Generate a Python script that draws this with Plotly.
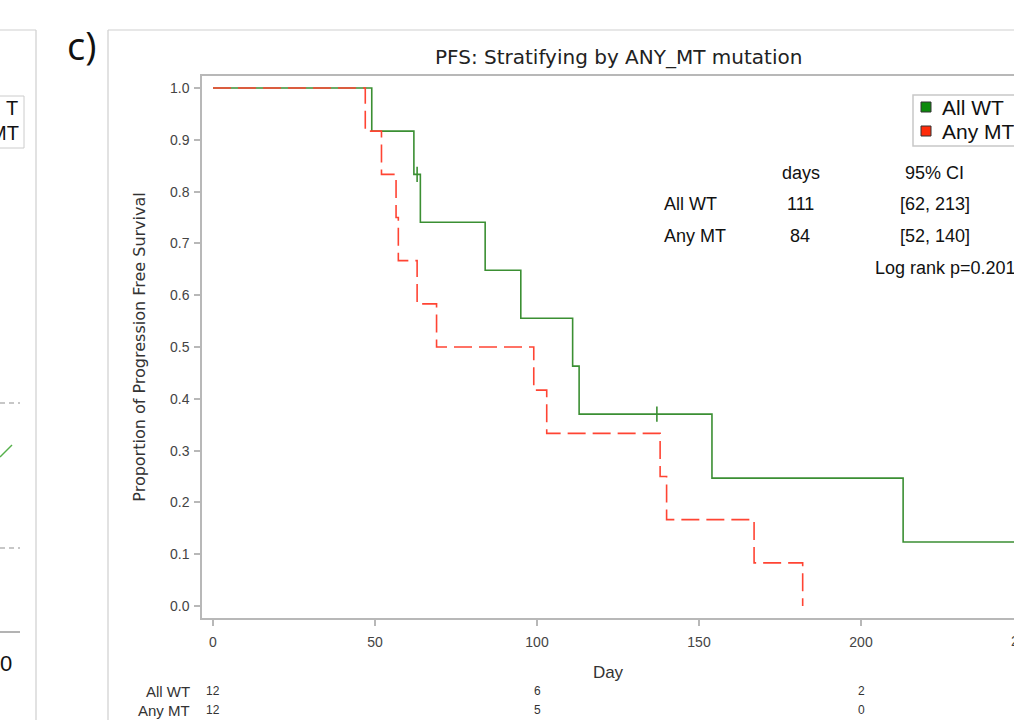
import plotly.graph_objects as go

W, H = 1014, 720

# ---------------- data ----------------
wt_days = [0, 49, 62, 64, 84, 95, 111, 113, 154, 213, 250]
wt_surv = [1.0, 0.9167, 0.8333, 0.7407, 0.6481, 0.5556, 0.4630, 0.3704, 0.2469, 0.1235, 0.1235]
wt_cens_days = [63, 137]
wt_cens_surv = [0.8333, 0.3704]

mt_days = [0, 47, 52, 56.5, 57.2, 63, 69, 99, 103, 138, 140, 167, 182]
mt_surv = [1.0, 0.9167, 0.8333, 0.75, 0.6667, 0.5833, 0.5, 0.4167, 0.3333, 0.25, 0.1667, 0.0833, 0.0]

risk_days = [0, 100, 200]
risk_wt = [12, 6, 2]
risk_mt = [12, 5, 0]

group_names = ["All WT", "Any MT"]
median_days = ["111", "84"]
median_ci = ["[62, 213]", "[52, 140]"]
logrank_text = "Log rank p=0.2010"

x_ticks = [0, 50, 100, 150, 200, 250]
y_ticks = [0.0, 0.1, 0.2, 0.3, 0.4, 0.5, 0.6, 0.7, 0.8, 0.9, 1.0]

GREEN_LINE = "#3b8f33"
RED_LINE = "#ff4433"
GREEN_BOX = "#0b8a0b"
RED_BOX = "#ff2b0a"
FONT = "Liberation Sans, Arial, sans-serif"
WIDE = "DejaVu Sans, Liberation Sans, sans-serif"


def px(x):
    return x / W


def py(y):
    return 1 - y / H


fig = go.Figure()

fig.add_trace(go.Scatter(x=wt_days, y=wt_surv, mode="lines", line_shape="hv",
                         line=dict(color=GREEN_LINE, width=1.6), name="All WT"))
fig.add_trace(go.Scatter(x=wt_cens_days, y=wt_cens_surv, mode="markers",
                         marker=dict(symbol="line-ns", size=11,
                                     line=dict(color=GREEN_LINE, width=1.6)),
                         name="All WT censored"))
fig.add_trace(go.Scatter(x=mt_days, y=mt_surv, mode="lines", line_shape="hv",
                         line=dict(color=RED_LINE, width=1.6, dash="18px,7px"),
                         name="Any MT"))

# ---------------- annotations ----------------
ann = []


def text(t, x, y, size, color="#111111", family=FONT, xanchor="center",
         yanchor="middle", xref="paper"):
    ann.append(dict(text=t, x=x, y=y, xref=xref, yref="paper", xanchor=xanchor,
                    yanchor=yanchor, showarrow=False,
                    font=dict(size=size, color=color, family=family)))


text("PFS: Stratifying by ANY_MT mutation", px(618), py(57), 20, "#222222", WIDE)
text("c)", px(81), py(45), 38, "#111111", "Open Sans, DejaVu Sans, sans-serif")

# median table
text("days", px(801), py(173), 18)
text("95% CI", px(934), py(173), 18)
for i, (g, d, ci) in enumerate(zip(group_names, median_days, median_ci)):
    yy = py(204 + 32 * i)
    text(g, px(662), yy, 18, xanchor="left")
    text(d, px(800), yy, 18)
    text(ci, px(935), yy, 18)
text(logrank_text, px(873), py(268), 18, xanchor="left")

# legend (drawn by hand, it runs off the right edge like the reference)
for i, (g, col) in enumerate(zip(group_names, [GREEN_BOX, RED_BOX])):
    text(g, px(940), py(107 + 24 * i), 21, xanchor="left")

# number at risk
for i, (g, vals) in enumerate(zip(group_names, [risk_wt, risk_mt])):
    yy = py(691 + 19 * i)
    text(g, px(192), yy, 15, "#333333", xanchor="right")
    for d, v in zip(risk_days, vals):
        text(str(v), d, yy, 12, "#333333", xref="x")

# partial tick label "250" at the right edge
text("250", px(1023), py(641), 14, "#444444")

# left (neighbouring) panel fragments
text("T", px(20), py(108), 20, xanchor="right")
text("MT", px(21), py(133), 20, xanchor="right")
text("0", px(6), py(663), 22)

fig.update_layout(annotations=ann)

# ---------------- shapes ----------------
BORDER = "#cfcfcf"
shapes = [
    dict(type="line", xref="paper", yref="paper", x0=px(108), x1=px(108), y0=py(30), y1=py(720),
         line=dict(color=BORDER, width=1.2)),
    dict(type="line", xref="paper", yref="paper", x0=px(108), x1=px(1014), y0=py(30), y1=py(30),
         line=dict(color=BORDER, width=1.2)),
    dict(type="line", xref="paper", yref="paper", x0=px(36), x1=px(36), y0=py(30), y1=py(720),
         line=dict(color=BORDER, width=1.2)),
    dict(type="line", xref="paper", yref="paper", x0=0, x1=px(36), y0=py(30), y1=py(30),
         line=dict(color=BORDER, width=1.2)),
    # legend box of this panel
    dict(type="rect", xref="paper", yref="paper", x0=px(913), x1=px(1040), y0=py(146), y1=py(95),
         line=dict(color="#c8c8c8", width=1.5), fillcolor="white"),
    # legend swatches
    dict(type="rect", xref="paper", yref="paper", x0=px(921), x1=px(931), y0=py(112), y1=py(102),
         line=dict(color="#333333", width=1), fillcolor=GREEN_BOX),
    dict(type="rect", xref="paper", yref="paper", x0=px(921), x1=px(931), y0=py(136), y1=py(126),
         line=dict(color="#333333", width=1), fillcolor=RED_BOX),
    # left panel legend box
    dict(type="rect", xref="paper", yref="paper", x0=px(-5), x1=px(24), y0=py(148), y1=py(96),
         line=dict(color="#cccccc", width=1)),
    # left panel dashed reference lines
    dict(type="line", xref="paper", yref="paper", x0=0, x1=px(20), y0=py(403), y1=py(403),
         line=dict(color="#b5b5b5", width=1.5, dash="5px,4px")),
    dict(type="line", xref="paper", yref="paper", x0=0, x1=px(20), y0=py(548), y1=py(548),
         line=dict(color="#b5b5b5", width=1.5, dash="5px,4px")),
    dict(type="line", xref="paper", yref="paper", x0=0, x1=px(12), y0=py(457), y1=py(445),
         line=dict(color="#55b04a", width=1.5)),
    dict(type="line", xref="paper", yref="paper", x0=0, x1=px(20), y0=py(632), y1=py(632),
         line=dict(color="#9a9a9a", width=1.5)),
]
fig.update_layout(shapes=shapes)

# ---------------- axes ----------------
X_LEFT, X_ZERO, PX_PER_DAY = 202, 213, 3.24
Y_TOP, Y_BOT, Y_ONE, Y_NULL = 76, 618, 88, 606
xr0 = (X_LEFT - X_ZERO) / PX_PER_DAY
xr1 = (W - X_ZERO) / PX_PER_DAY
ppu = Y_NULL - Y_ONE
yr0 = -(Y_BOT - Y_NULL) / ppu
yr1 = 1 + (Y_ONE - Y_TOP) / ppu

fig.update_xaxes(domain=[px(X_LEFT), 1], range=[xr0, xr1], tickvals=x_ticks[:-1],
                 ticktext=[str(t) for t in x_ticks[:-1]], automargin=False,
                 showgrid=False, zeroline=False, showline=True, linecolor="#b8b8b8",
                 linewidth=1.5, mirror=True, ticks="outside", ticklen=6, tickcolor="#b8b8b8",
                 tickwidth=1.5, ticklabelstandoff=4,
                 tickfont=dict(size=14, color="#444444", family=FONT),
                 title=dict(text="Day", font=dict(size=17, color="#333333", family=FONT),
                            standoff=18))
fig.update_yaxes(domain=[py(Y_BOT), py(Y_TOP)], range=[yr0, yr1], tickvals=y_ticks,
                 ticktext=[f"{t:.1f}" for t in y_ticks], automargin=False,
                 showgrid=False, zeroline=False, showline=True, linecolor="#b8b8b8",
                 linewidth=1.5, ticks="outside", ticklen=6, tickcolor="#b8b8b8",
                 tickwidth=1.5, ticklabelstandoff=2,
                 tickfont=dict(size=14, color="#444444", family=FONT),
                 title=dict(text="Proportion of Progression Free Survival",
                            font=dict(size=16, color="#333333", family=WIDE), standoff=20))

fig.update_layout(
    width=W, height=H, margin=dict(l=0, r=0, t=0, b=0, autoexpand=False),
    paper_bgcolor="white", plot_bgcolor="white",
    font=dict(family=FONT), showlegend=False,
)

fig.write_html("out.html", config={"displayModeBar": False},
               post_script="document.body.style.margin='0px';"
                           "document.documentElement.style.overflow='hidden';")
